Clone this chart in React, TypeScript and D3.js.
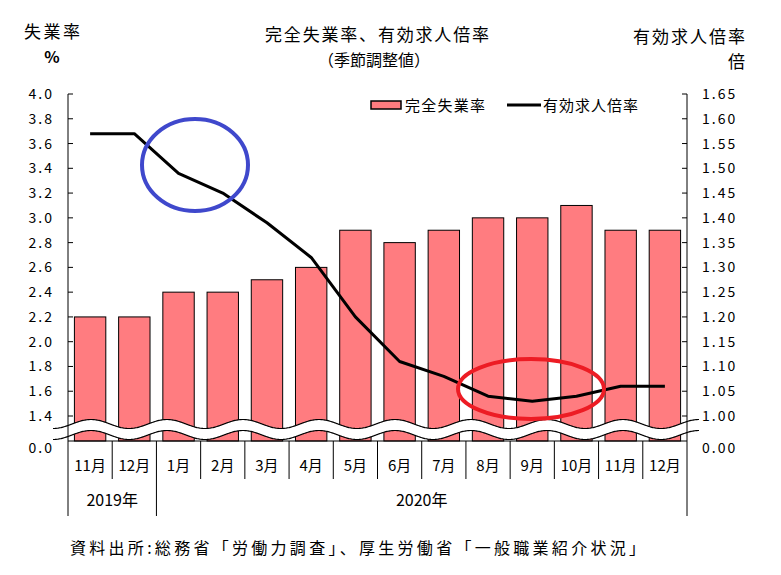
import React from "react";
import * as d3 from "d3";

const months = ["11月", "12月", "1月", "2月", "3月", "4月", "5月", "6月", "7月", "8月", "9月", "10月", "11月", "12月"];
const unemployment = [2.2, 2.2, 2.4, 2.4, 2.5, 2.6, 2.9, 2.8, 2.9, 3.0, 3.0, 3.1, 2.9, 2.9];
const jobRatio = [1.57, 1.57, 1.49, 1.45, 1.39, 1.32, 1.20, 1.11, 1.08, 1.04, 1.03, 1.04, 1.06, 1.06];
const leftTicks = [1.4, 1.6, 1.8, 2.0, 2.2, 2.4, 2.6, 2.8, 3.0, 3.2, 3.4, 3.6, 3.8, 4.0];
const rightTicks = [1.0, 1.05, 1.1, 1.15, 1.2, 1.25, 1.3, 1.35, 1.4, 1.45, 1.5, 1.55, 1.6, 1.65];
const years = [{ label: "2019年", from: 0, to: 2 }, { label: "2020年", from: 2, to: 14 }];

const FONT = "'Noto Sans CJK JP', 'Noto Sans', sans-serif";

export default function App() {
  const W = 781, H = 575;
  const x0 = 68, x1 = 687;
  const yTop = 94, yBase = 416, yAxis = 441;
  const x = d3.scaleBand<number>().domain(d3.range(months.length)).range([x0, x1]).paddingInner(0.29).paddingOuter(0.145);
  const band = (x1 - x0) / months.length;
  const cx = (i: number) => x0 + band * (i + 0.5);
  const yL = d3.scaleLinear().domain([1.4, 4.0]).range([yBase, yTop]);
  const yR = d3.scaleLinear().domain([1.0, 1.65]).range([yBase, yTop]);

  const line = d3.line<number>().x((_, i) => cx(i)).y((d) => yR(d));

  // wave break
  const waveX = d3.range(53, 700, 1);
  const period = 76, amp = 4.5;
  const upper = waveX.map((px) => [px, 424 + amp * Math.sin(((px - 53) / period) * 2 * Math.PI + Math.PI / 2)] as [number, number]);
  const lower = waveX.map((px) => [px, 435 + amp * Math.sin(((px - 53) / period) * 2 * Math.PI + Math.PI / 2)] as [number, number]);
  const lg = d3.line();
  const bandPath = lg(upper)! + "L" + lower.slice().reverse().map((p) => p.join(",")).join("L") + "Z";

  return (
    <svg width={W} height={H} style={{ position: "absolute", left: 0, top: 0, background: "#fff" }} fontFamily={FONT}>
      {/* titles */}
      <text x={265} y={41} fontSize={17} textLength={224} lengthAdjust="spacing">完全失業率、有効求人倍率</text>
      <text x={374} y={66} textAnchor="middle" fontSize={16}>（季節調整値）</text>
      <text x={24} y={38} fontSize={17} textLength={56} lengthAdjust="spacing">失業率</text>
      <text x={52} y={63} textAnchor="middle" fontSize={16} fontWeight="bold">%</text>
      <text x={633} y={43} fontSize={17} textLength={112} lengthAdjust="spacing">有効求人倍率</text>
      <text x={745} y={68} textAnchor="end" fontSize={17}>倍</text>

      {/* bars */}
      {unemployment.map((v, i) => (
        <rect key={i} x={x(i)!} y={yL(v)} width={x.bandwidth()} height={yAxis - yL(v)} fill="#ff7c80" stroke="#000" strokeWidth={1} />
      ))}

      {/* line */}
      <path d={line(jobRatio)!} fill="none" stroke="#000" strokeWidth={3} strokeLinejoin="round" />

      {/* axis break */}
      <path d={bandPath} fill="#fff" stroke="none" />
      <path d={lg(upper)!} fill="none" stroke="#000" strokeWidth={1.2} />
      <path d={lg(lower)!} fill="none" stroke="#000" strokeWidth={1.2} />

      {/* left axis */}
      <line x1={x0} x2={x0} y1={yTop} y2={yAxis} stroke="#000" />
      {leftTicks.map((t) => (
        <g key={t}>
          <line x1={x0} x2={x0 + 5} y1={yL(t)} y2={yL(t)} stroke="#000" />
          <text x={54} y={yL(t) + 5} textAnchor="end" fontSize={14} letterSpacing={2}>{t.toFixed(1)}</text>
        </g>
      ))}
      <text x={54} y={yAxis + 12} textAnchor="end" fontSize={14} letterSpacing={2}>0.0</text>

      {/* right axis */}
      <line x1={x1} x2={x1} y1={yTop} y2={yAxis} stroke="#000" />
      {rightTicks.map((t) => (
        <g key={t}>
          <line x1={x1 - 5} x2={x1} y1={yR(t)} y2={yR(t)} stroke="#000" />
          <text x={702} y={yR(t) + 5} textAnchor="start" fontSize={14} letterSpacing={2}>{t.toFixed(2)}</text>
        </g>
      ))}
      <text x={702} y={yAxis + 12} textAnchor="start" fontSize={14} letterSpacing={2}>0.00</text>

      {/* x axis table */}
      <line x1={x0} x2={x1} y1={yAxis} y2={yAxis} stroke="#000" />
      {months.map((m, i) => (
        <g key={i}>
          {i > 0 && <line x1={x0 + band * i} x2={x0 + band * i} y1={yAxis} y2={i === 2 ? 516 : 479} stroke="#000" />}
          <text x={cx(i)} y={471} textAnchor="middle" fontSize={15}>{m}</text>
        </g>
      ))}
      <line x1={x0} x2={x0} y1={yAxis} y2={516} stroke="#000" />
      <line x1={x1} x2={x1} y1={yAxis} y2={516} stroke="#000" />
      {years.map((yr) => (
        <text key={yr.label} x={x0 + band * (yr.from + yr.to) / 2} y={506} textAnchor="middle" fontSize={16}>{yr.label}</text>
      ))}

      {/* legend */}
      <rect x={371} y={101} width={30} height={8} fill="#ff7c80" stroke="#000" strokeWidth={1.5} />
      <text x={405} y={110.5} fontSize={15} textLength={80} lengthAdjust="spacing">完全失業率</text>
      <line x1={507} x2={541} y1={105} y2={105} stroke="#000" strokeWidth={3} />
      <text x={543} y={110.5} fontSize={15} textLength={95} lengthAdjust="spacing">有効求人倍率</text>

      {/* annotations */}
      <ellipse cx={195} cy={165} rx={53} ry={46} fill="none" stroke="#3f48cc" strokeWidth={4} />
      <ellipse cx={531} cy={389} rx={73} ry={30} fill="none" stroke="#ed1c24" strokeWidth={4} />

      {/* source */}
      <text x={70} y={554} fontSize={16} textLength={575} lengthAdjust="spacing">資料出所:総務省「労働力調査」、厚生労働省「一般職業紹介状況」</text>
    </svg>
  );
}
